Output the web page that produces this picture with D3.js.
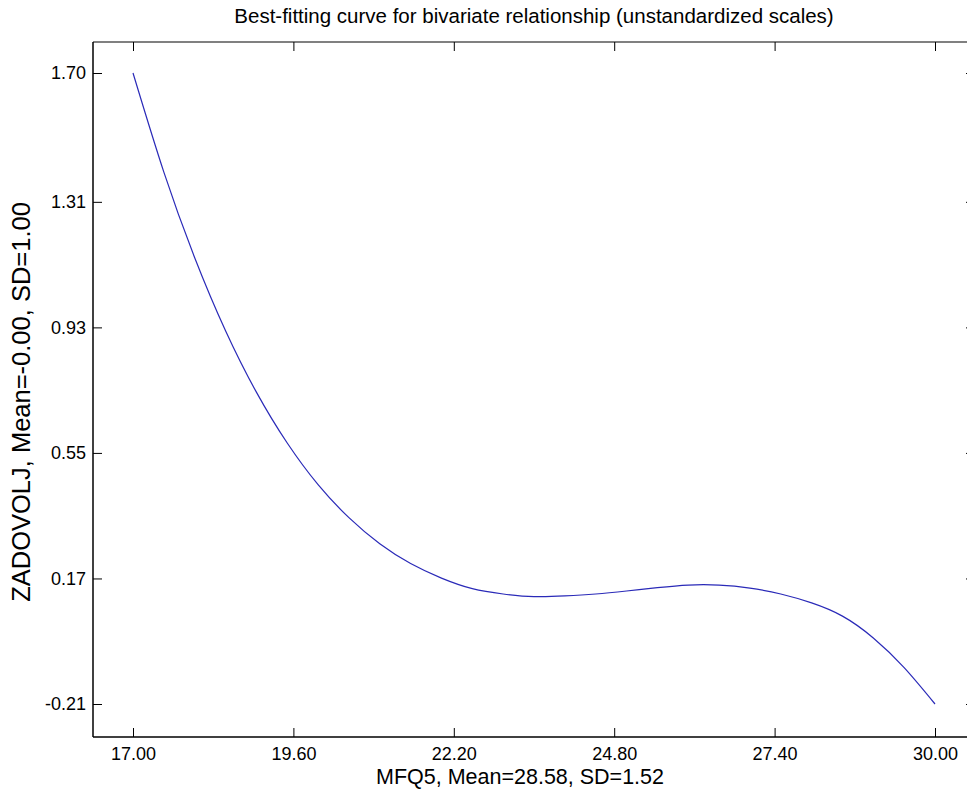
<!DOCTYPE html>
<html><head><meta charset="utf-8">
<script src="https://cdn.jsdelivr.net/npm/d3@7"></script>
<style>
html,body{margin:0;padding:0;background:#fff;overflow:hidden;}
text{font-family:"Liberation Sans",Arial,sans-serif;fill:#000;}
</style></head>
<body>
<svg id="chart" width="967" height="794"></svg>
<script>
const title = "Best-fitting curve for bivariate relationship (unstandardized scales)";
const xLabel = "MFQ5, Mean=28.58, SD=1.52";
const yLabel = "ZADOVOLJ, Mean=-0.00, SD=1.00";
const xTicks = [17.00, 19.60, 22.20, 24.80, 27.40, 30.00];
const yTicks = [-0.21, 0.17, 0.55, 0.93, 1.31, 1.70];
const curveX = [17, 17.5, 18, 18.5, 19, 19.5, 20, 20.5, 21, 21.5, 22, 22.5, 23, 23.5, 24, 24.5, 25, 25.5, 26, 26.5, 27, 27.5, 28, 28.5, 29, 29.5, 30];
const curveY = [1.700, 1.400, 1.141, 0.920, 0.734, 0.580, 0.454, 0.354, 0.275, 0.215, 0.171, 0.139, 0.123, 0.115, 0.117, 0.123, 0.132, 0.142, 0.150, 0.150, 0.141, 0.123, 0.096, 0.056, -0.010, -0.100, -0.210];

const fmt = v => v.toFixed(2);
const svg = d3.select("#chart");
const box = {left: 93, top: 42, right: 975, bottom: 737};
const x = d3.scaleLinear().domain([17, 30]).range([133, 935]);
const y = d3.scaleLinear().domain([-0.21, 1.70]).range([704, 73]);

// bottom axis
const gx = svg.append("g").attr("transform", `translate(0,${box.bottom})`)
  .call(d3.axisBottom(x).tickValues(xTicks).tickFormat(fmt).tickSizeInner(-9).tickSizeOuter(0).tickPadding(10));
gx.select(".domain").attr("d", `M${box.left},0H${box.right}`).attr("stroke", "#000").attr("stroke-width", 1.5);
gx.selectAll("text").attr("font-size", 18).attr("font-family", "'Liberation Sans', Arial, sans-serif");

// top axis
const gt = svg.append("g").attr("transform", `translate(0,${box.top})`)
  .call(d3.axisTop(x).tickValues(xTicks).tickFormat("").tickSizeInner(-9).tickSizeOuter(0));
gt.select(".domain").attr("d", `M${box.left},0H${box.right}`).attr("stroke", "#808080").attr("stroke-width", 2);

// left axis
const gy = svg.append("g").attr("transform", `translate(${box.left},0)`)
  .call(d3.axisLeft(y).tickValues(yTicks).tickFormat(fmt).tickSizeInner(-9).tickSizeOuter(0).tickPadding(7));
gy.select(".domain").attr("d", `M0,${box.top}V${box.bottom}`).attr("stroke", "#000").attr("stroke-width", 1.5);
gy.selectAll("text").attr("font-size", 18).attr("font-family", "'Liberation Sans', Arial, sans-serif");

// right axis
const gr = svg.append("g").attr("transform", `translate(${box.right},0)`)
  .call(d3.axisRight(y).tickValues(yTicks).tickFormat("").tickSizeInner(-9).tickSizeOuter(0));
gr.select(".domain").attr("d", `M0,${box.top}V${box.bottom}`).attr("stroke", "#000");

// curve
const pts = curveX.map((v, i) => [v, curveY[i]]);
svg.append("path").datum(pts)
  .attr("fill", "none").attr("stroke", "#2a2ab8").attr("stroke-width", 1.2)
  .attr("d", d3.line().x(d => x(d[0])).y(d => y(d[1])).curve(d3.curveNatural));

// titles
svg.append("text").attr("x", 534).attr("y", 23).attr("text-anchor", "middle").attr("font-size", 20.5).text(title);
svg.append("text").attr("x", 520).attr("y", 784).attr("text-anchor", "middle").attr("font-size", 21.5).text(xLabel);
svg.append("text").attr("transform", "translate(30,402) rotate(-90)").attr("text-anchor", "middle").attr("font-size", 25.5).text(yLabel);
</script>
</body></html>
